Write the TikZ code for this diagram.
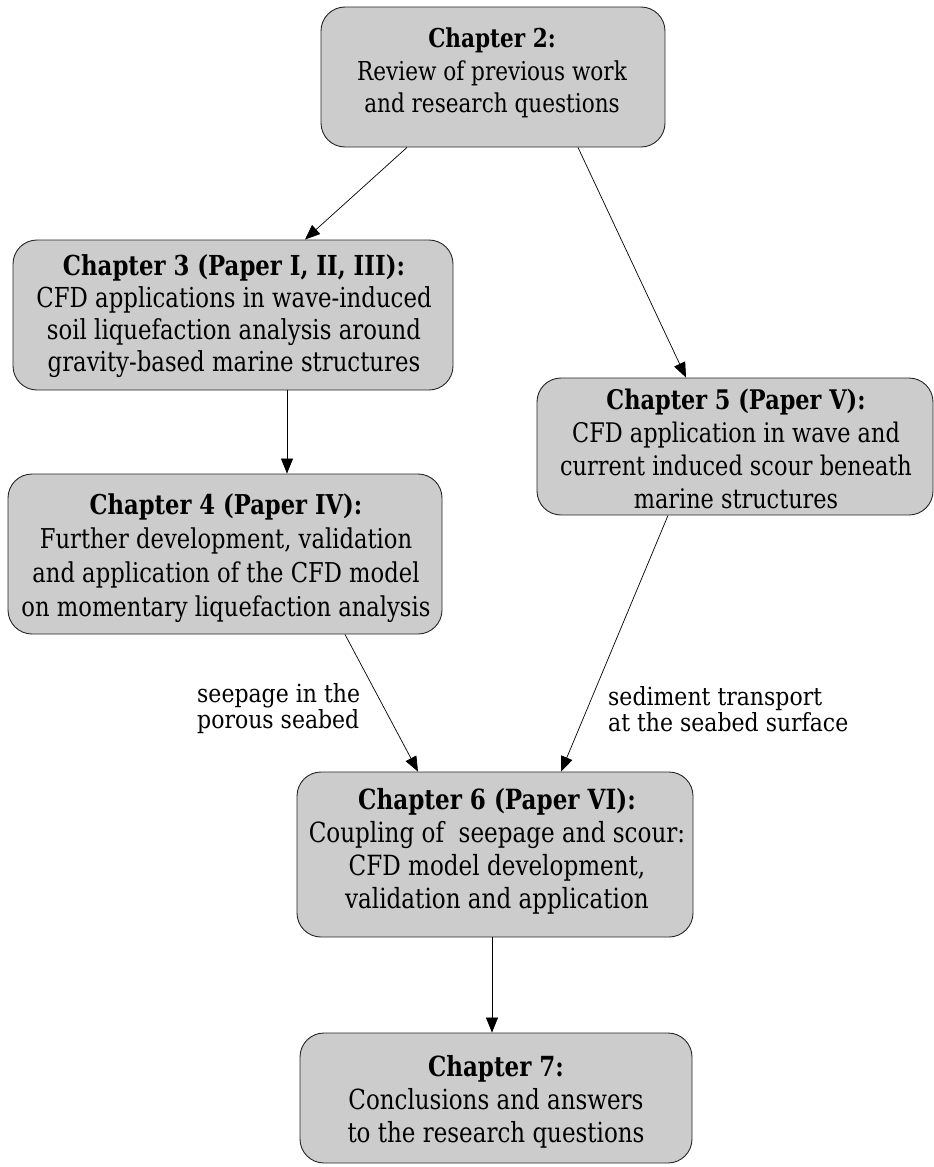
\documentclass[tikz,border=0pt]{standalone}
\usepackage{fontspec}
\setmainfont{DejaVu Serif}
\newfontfamily\boxfont[FakeStretch=0.83]{DejaVu Serif}
\newfontfamily\lblfont[FakeStretch=0.88]{DejaVu Serif}
\usetikzlibrary{arrows.meta}
\begin{document}
\begin{tikzpicture}[x=1pt,y=-1pt,
  box/.style={draw=black!85, line width=0.9pt, fill=black!20, rounded corners=24pt, inner sep=0pt},
  txt/.style={align=center, inner sep=0pt, font=\boxfont\fontsize{#1}{33}\selectfont},
  arr/.style={line width=0.7pt, -{Triangle[length=15pt,width=12pt]}},
  lbl/.style={align=left, inner sep=0pt, font=\lblfont\fontsize{25}{26}\selectfont}]
\useasboundingbox (0,0) rectangle (934,1167);
\node[box, minimum width=344pt, minimum height=140pt] (b2) at (493,77) {};
\node[txt=26, font=\boxfont\fontsize{26}{32.5}\selectfont] (t2) at (492,73)
  {\textbf{Chapter 2:}\\Review of previous work\\and research questions};
\node[box, minimum width=440pt, minimum height=150pt] (b3) at (233,315) {};
\node[txt=27.5, font=\boxfont\fontsize{27.5}{32}\selectfont] (t3) at (234,316)
  {\textbf{Chapter 3 (Paper I, II, III):}\\CFD applications in wave-induced\\soil liquefaction analysis around\\gravity-based marine structures};
\node[box, minimum width=396pt, minimum height=137pt] (b5) at (735,446.5) {};
\node[txt=27] (t5) at (736,448.5)
  {\textbf{Chapter 5 (Paper V):}\\CFD application in wave and\\current induced scour beneath\\marine structures};
\node[box, minimum width=434pt, minimum height=160pt] (b4) at (225,554) {};
\node[txt=27.3, font=\boxfont\fontsize{27.3}{34}\selectfont] (t4) at (226,558)
  {\textbf{Chapter 4 (Paper IV):}\\Further development, validation\\and application of the CFD model\\on momentary liquefaction analysis};
\node[box, minimum width=396pt, minimum height=165pt] (b6) at (495,854.5) {};
\node[txt=27.8] (t6) at (497,851)
  {\textbf{Chapter 6 (Paper VI):}\\Coupling of\ \ seepage and scour:\\CFD model development,\\validation and application};
\node[box, minimum width=392pt, minimum height=130pt] (b7) at (496,1098) {};
\node[txt=27.7] (t7) at (496,1102)
  {\textbf{Chapter 7:}\\Conclusions and answers\\to the research questions};
\node[lbl, anchor=west] (l1) at (197,709) {seepage in the\\porous seabed};
\node[lbl, anchor=west] (l2) at (608,709) {sediment transport\\at the seabed surface};
\draw[arr] ([xshift=-86pt]b2.south) -- ([xshift=72pt]b3.north);
\draw[arr] ([xshift=85pt]b2.south) -- ([xshift=-49pt]b5.north);
\draw[arr] ([xshift=54pt]b3.south) -- ([xshift=62pt]b4.north);
\draw[arr] ([xshift=120pt]b4.south) -- ([xshift=-77pt]b6.north);
\draw[arr] ([xshift=-67pt]b5.south) -- ([xshift=66pt]b6.north);
\draw[arr] ([xshift=-3pt]b6.south) -- ([xshift=-4pt]b7.north);
\end{tikzpicture}
\end{document}
